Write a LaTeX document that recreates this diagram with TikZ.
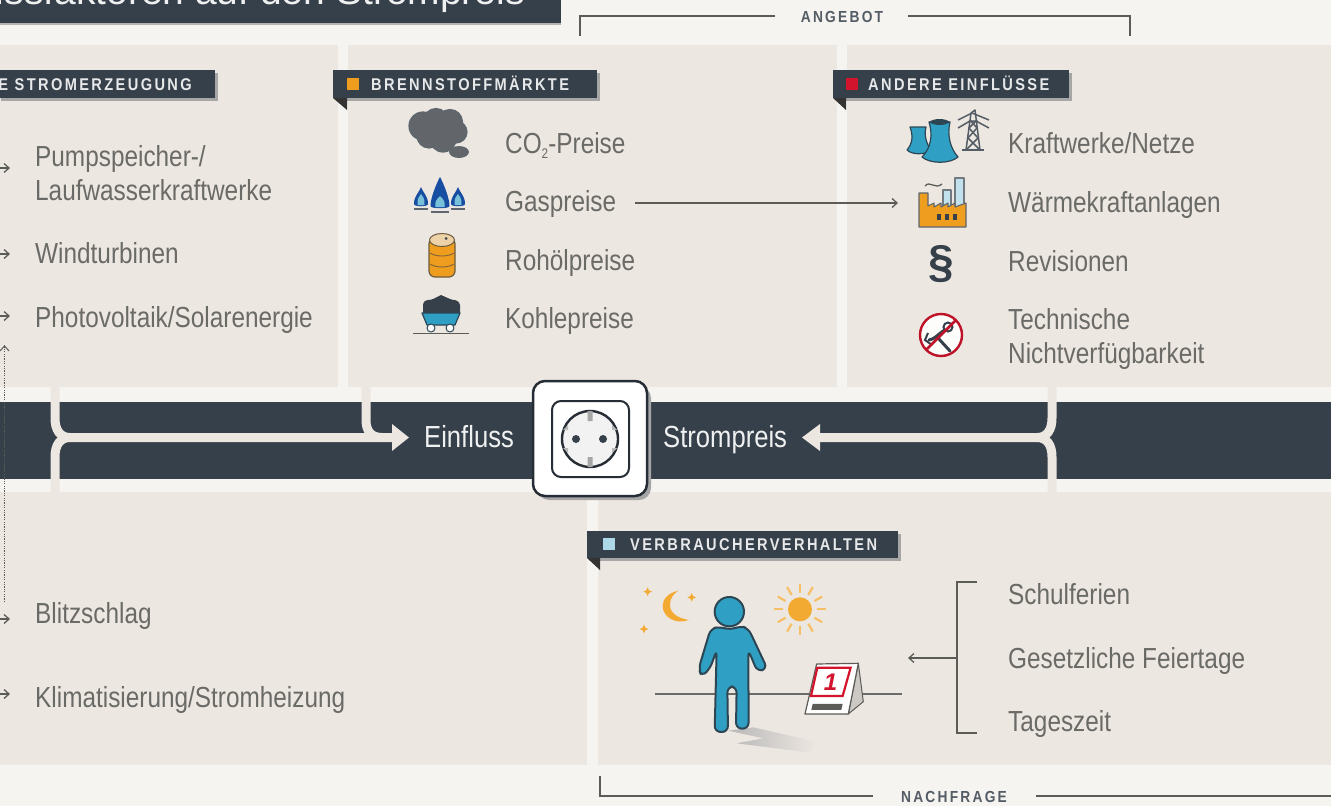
\documentclass[tikz,border=0pt]{standalone}
\usepackage{fontspec}
\setmainfont{Liberation Sans}
\newfontfamily\bodyf[FakeStretch=0.84]{Liberation Sans}
\newfontfamily\headf[FakeStretch=0.86,LetterSpace=14,BoldFont={Liberation Sans Bold}]{Liberation Sans}
\usetikzlibrary{arrows.meta,shapes.geometric}
\definecolor{bgc}{HTML}{F6F4F0}
\definecolor{panelc}{HTML}{EDE7E1}
\definecolor{darkc}{HTML}{36404A}
\definecolor{textc}{HTML}{6A6A67}
\definecolor{linec}{HTML}{5B5B58}
\definecolor{orangec}{HTML}{EE9D1F}
\definecolor{bluec}{HTML}{2F9FC4}
\definecolor{outc}{HTML}{2D4654}
\definecolor{sunc}{HTML}{F3AA33}
\definecolor{redc}{HTML}{D2142C}
\tikzset{
 item/.style={anchor=base west,inner sep=0pt,text=textc,font=\bodyf\fontsize{29}{30}\selectfont},
 onbar/.style={anchor=base west,inner sep=0pt,text=white!92!darkc,font=\bodyf\fontsize{30.5}{32}\selectfont},
 flaghead/.style={anchor=base west,inner sep=0pt,text=white!88!darkc,font=\headf\bfseries\fontsize{17}{18}\selectfont},
 capt/.style={anchor=base,inner sep=0pt,text=darkc!85,font=\headf\bfseries\fontsize{16}{18}\selectfont},
 thin arrow/.style={draw=linec,line width=1.3pt,-{Straight Barb[length=5pt,width=9pt]}},
 bracket line/.style={draw=linec,line width=1.5pt},
 flow/.style={draw=panelc,line width=9pt},
 ico/.style={draw=outc,line width=1.2pt,line join=round},
}
\newcommand{\flag}[4]{%
 \fill[gray!70] (#1+3,#2+3) rectangle (#3+3,#4+3);
 \fill[darkc] (#1,#2) rectangle (#3,#4);
}
\begin{document}
\begin{tikzpicture}[x=1pt,y=-1pt]
\useasboundingbox (0,0) rectangle (1331,806);
\clip (0,0) rectangle (1331,806);
\fill[bgc] (0,0) rectangle (1331,806);
% panels
\fill[panelc] (-2,45) rectangle (338,387);
\fill[panelc] (348,45) rectangle (837,387);
\fill[panelc] (847,45) rectangle (1333,387);
\fill[panelc] (-2,492) rectangle (587,765);
\fill[panelc] (598,492) rectangle (1333,765);
% title
\fill[gray!60] (0,23) rectangle (561,25);
\fill[darkc] (0,0) rectangle (561,23);
\begin{scope}
\clip (0,0) rectangle (561,23);
\node[anchor=base east,inner sep=0pt,text=white!92!darkc,font=\fontsize{39}{40}\selectfont] (title) at (525,4) {Einflussfaktoren auf den Strompreis};
\end{scope}
% bar
\fill[darkc] (-2,402) rectangle (1333,479);
% flows
\draw[flow] (55,387) -- (55,418) .. controls (55,430) and (60,437.5) .. (70,437.5) -- (395,437.5);
\draw[flow] (55,492) -- (55,457) .. controls (55,445) and (60,437.5) .. (70,437.5);
\draw[flow] (366,387) -- (366,420) .. controls (366,432) and (372,437.5) .. (382,437.5);
\fill[panelc] (392,424) -- (409,437.5) -- (392,451) -- cycle;
\draw[flow] (1052,387) -- (1052,418) .. controls (1052,430) and (1047,437.5) .. (1037,437.5) -- (815,437.5);
\draw[flow] (1052,492) -- (1052,457) .. controls (1052,445) and (1047,437.5) .. (1037,437.5);
\fill[panelc] (820,424) -- (802,437.5) -- (820,451) -- cycle;
\node[onbar] (einfluss) at (424,447) {Einfluss};
\node[onbar] (strompreis) at (663,447) {Strompreis};
% socket
\fill[gray!70,rounded corners=12pt] (537,386) rectangle (651,500);
\draw[fill=white,draw=darkc!70!black,line width=2.5pt,rounded corners=12pt] (533,381) rectangle (647,496);
\draw[fill=white,draw=darkc!70!black,line width=2pt,rounded corners=9pt] (552,401) rectangle (629,477);
\draw[fill=white!95!black,draw=darkc!70!black,line width=2.4pt] (590,439) circle (28);
\fill[darkc] (576,439) circle (4) (603,439) circle (4);
\fill[gray!70] (587.5,411) rectangle (592.5,421) (587.5,457) rectangle (592.5,467);
\fill[gray!55] (563,430) -- (568,425) -- (568,430) -- cycle (563,448) -- (568,453) -- (568,448) -- cycle (617,430) -- (612,425) -- (612,430) -- cycle (617,448) -- (612,453) -- (612,448) -- cycle;
% brackets angebot / nachfrage
\node[capt] (ang) at (842,22) {ANGEBOT};
\coordinate (ang1) at (580,36); \coordinate (ang2) at (1130,36);
\draw[bracket line] (ang1) |- (775,16);
\draw[bracket line] (ang2) |- (908,16);
\node[capt] (nach) at (954,802) {NACHFRAGE};
\coordinate (na1) at (600,776);
\draw[bracket line] (na1) |- (873,796);
\draw[bracket line] (1036,796) -- (1333,796);
% flags
\flag{-2}{70}{215}{98}
\node[anchor=base east,inner sep=0pt,text=white!88!darkc,font=\headf\bfseries\fontsize{17}{18}\selectfont] (fa) at (192,90.5) {E STROMERZEUGUNG};
\flag{333}{70}{597}{98}
\fill[black!80] (333,98) -- (347,98) -- (347,110) -- cycle;
\fill[orangec] (347,78) rectangle (359,90);
\node[flaghead] (fb) at (371,90.5) {BRENNSTOFFMÄRKTE};
\flag{833}{70}{1069}{98}
\fill[black!80] (833,98) -- (846,98) -- (846,110) -- cycle;
\fill[redc] (846,78) rectangle (858,90);
\node[flaghead] (fc) at (868,90.5) {ANDERE EINFLÜSSE};
\flag{587}{531}{898}{558}
\fill[black!80] (587,558) -- (600,558) -- (600,570) -- cycle;
\fill[white!60!bluec] (603,538) rectangle (615,550);
\node[flaghead] (fd) at (630,550.5) {VERBRAUCHERVERHALTEN};
% items A
\node[item] (a1) at (35,166) {Pumpspeicher-/};
\node[item] (a2) at (35,200) {Laufwasserkraftwerke};
\node[item] (a3) at (35,263) {Windturbinen};
\node[item] (a4) at (35,327) {Photovoltaik/Solarenergie};
\node[item] (a5) at (35,623) {Blitzschlag};
\node[item] (a6) at (35,707) {Klimatisierung/Stromheizung};
\foreach \n/\yy in {s1/168,s2/254,s3/316,s4/619,s5/694}{
 \coordinate (\n a) at (-2,\yy); \coordinate (\n b) at (10,\yy);
 \draw[thin arrow] (\n a) -- (\n b);}
\coordinate (dotA) at (4.5,602); \coordinate (dotB) at (4.5,345);
\draw[draw=linec,line width=1.2pt,dash pattern=on 1.2pt off 1.2pt] (dotA) -- (dotB);
\draw[draw=linec,line width=1pt] (0,351) -- (4.5,346) -- (9,351);
% items B
\node[item] (b1) at (505,153) {CO\raisebox{-5pt}{\fontsize{14}{14}\selectfont 2}-Preise};
\node[item] (b2) at (505,211) {Gaspreise};
\node[item] (b3) at (505,270) {Rohölpreise};
\node[item] (b4) at (505,328) {Kohlepreise};
% items C
\node[item] (c1) at (1008,153) {Kraftwerke/Netze};
\node[item] (c2) at (1008,212) {Wärmekraftanlagen};
\node[item] (c3) at (1008,271) {Revisionen};
\node[item] (c4) at (1008,329) {Technische};
\node[item] (c5) at (1008,363) {Nichtverfügbarkeit};
% items D
\node[item] (d1) at (1008,604) {Schulferien};
\node[item] (d2) at (1008,668) {Gesetzliche Feiertage};
\node[item] (d3) at (1008,731) {Tageszeit};
% gas arrow
\coordinate (gasA) at (635,203); \coordinate (gasB) at (898,203);
\draw[thin arrow] (gasA) -- (gasB);
% bracket D
\coordinate (bt) at (977,582); \coordinate (bb) at (977,733); \coordinate (bm) at (957,658); \coordinate (be) at (908,658);
\draw[bracket line] (bt) -- (957,582) -- (957,733) -- (bb);
\draw[thin arrow] (bm) -- (be);
% cloud
\foreach \extra/\colr in {1.6/darkc!80,0/gray!60!darkc}{
 \fill[\colr] (423,126) circle (13+\extra) (436,121) circle (11.5+\extra) (450,122) circle (11.5+\extra) (456,132) circle (10+\extra) (443,139) circle (12+\extra) (429,136) circle (11+\extra);
 \fill[\colr] (459,152) ellipse (9+\extra*.6 and 5+\extra*.6);
}
% flames
\foreach \cx/\hw/\tip/\base in {421/7/187/208,440/9.5/177/210,458/7/187/208}{
 \fill[blue!35!bluec!75!black] (\cx,\tip) .. controls (\cx+.4*\hw,\tip+7) and (\cx+\hw,\base-12) .. (\cx+\hw,\base-4) .. controls (\cx+\hw,\base-1) and (\cx-\hw,\base-1) .. (\cx-\hw,\base-4) .. controls (\cx-\hw,\base-12) and (\cx-.4*\hw,\tip+7) .. (\cx,\tip) -- cycle;
 \fill[white!35!bluec] (\cx,\base-14) .. controls (\cx+\hw*.5,\base-9) .. (\cx+\hw*.5,\base-3) -- (\cx-\hw*.5,\base-3) .. controls (\cx-\hw*.5,\base-9) .. (\cx,\base-14);
}
\draw[darkc!80,line width=1.5pt] (414,209) -- (428,209) (431,212) -- (449,212) (451,209) -- (465,209);
% barrel
\draw[ico,draw=darkc!70!orangec,fill=orangec,rounded corners=6pt] (429,238) rectangle (455,277);
\draw[ico,draw=darkc!70!orangec,fill=panelc!70!orangec,line width=1pt] (442,240) ellipse (12.5 and 6.5);
\fill[darkc] (446,238.5) circle (1.5);
\draw[darkc!60!orangec,line width=.9pt] (430,253) .. controls (436,257) and (448,257) .. (454,253) (430,264) .. controls (436,268) and (448,268) .. (454,264);
% cart
\fill[darkc] (423,313) -- (423,305) .. controls (424,298) and (430,301) .. (433,299) .. controls (436,297) and (438,297) .. (441,295) .. controls (444,297) and (447,297) .. (450,299) .. controls (453,301) and (458,298) .. (460,305) -- (460,313) -- cycle;
\draw[ico,fill=bluec] (422,313) -- (460,313) -- (455,325) -- (427,325) -- cycle;
\draw[ico,fill=white,line width=1pt] (431,328) circle (4) (450,328) circle (4);
\draw[linec,line width=1.8pt] (413,333.5) -- (469,333.5);
% pylon
\begin{scope}[darkc!85,line width=1.5pt,line join=round]
\draw (966,150) -- (971,113) -- (975,110) -- (980,150);
\draw (966,150) -- (978,138) -- (969,128) -- (977,120) (980,150) -- (968,138) -- (977,128) -- (970,120);
\draw (958,120) -- (972,113) -- (989,120) (958,128) -- (970,121) -- (976,121) -- (989,128);
\draw (962,150) -- (984,150);
\end{scope}
% towers
\draw[ico,fill=bluec] (910,127) .. controls (913,135) and (913,143) .. (907,150) .. controls (912,155) and (925,155) .. (931,150) .. controls (926,143) and (924,135) .. (926,127) -- cycle;
\draw[ico,fill=bluec] (929,122) .. controls (933,135) and (931,148) .. (922,157) .. controls (930,164) and (950,164) .. (958,157) .. controls (950,148) and (947,135) .. (950,122) -- cycle;
\fill[outc] (929,122) .. controls (934,118) and (945,118) .. (950,122) .. controls (945,126) and (934,126) .. (929,122);
% factory
\draw[ico,draw=darkc!70,fill=white!70!bluec] (955,178) rectangle (964,208);
\draw[ico,draw=darkc!70,fill=white!70!bluec] (943,190) rectangle (951,210);
\draw[linec,line width=1.3pt] (925,186) .. controls (930,180) and (935,190) .. (942,184);
\draw[ico,draw=darkc!80,fill=orangec,line width=1.1pt] (919,227) -- (919,193) -- (928,193) -- (928,206) -- (934,203) -- (934,207) -- (941,203) -- (941,207) -- (948,203) -- (948,207) -- (955,203) -- (955,207) -- (966,203) -- (966,227) -- cycle;
\foreach \qx in {939,947,955}{\fill[darkc] (\qx-2,214) rectangle (\qx+2,220);}
% paragraph
\node[inner sep=0pt,text=darkc,font=\bfseries\fontsize{46}{46}\selectfont] (para) at (941,264) {§};
% no tools
\draw[draw=redc!90!black,fill=white!90!panelc,line width=2.4pt] (941,335) circle (21);
\draw[darkc,line width=3pt,line cap=round] (929,340) .. controls (934,340) and (940,332) .. (948,328) (938,338) -- (950,351);
\draw[darkc,line width=2pt] (928,333) -- (925,340) -- (932,345);
\draw[darkc,line width=2pt,fill=white] (948,327) circle (4.5);
\draw[redc!90!black,line width=2.6pt] (955.5,320.5) -- (926.5,349.5);
% ground line
\draw[linec!90,line width=2pt] (655,694) -- (902,694);
% scaled scene
\begin{scope}[shift={(620pt,-570pt)},x=.3333pt,y=-.3333pt]
\shade[left color=black!28,right color=panelc] (325,482) -- (400,472) -- (590,515) -- (570,548) -- (350,520) -- (430,505) -- cycle;
\draw[ico,line width=2pt,fill=bluec,rounded corners=6pt] (300,170) -- (272,176) -- (236,296) -- (245,320) -- (270,296) -- (290,240) -- (284,486) -- (324,486) -- (322,350) -- (350,350) -- (348,476) -- (386,476) -- (385,240) -- (412,305) -- (442,296) -- (385,175) -- (360,168) -- (330,180) -- cycle;
\draw[ico,line width=2pt,fill=bluec] (328,125) circle (44);
% sun
\fill[sunc] (540,118) circle (36);
\foreach \ang in {0,30,...,330}{\draw[sunc!75!white,line width=2.2pt] (540,118) ++(\ang:50) -- ++(\ang:27);}
% moon
\fill[sunc] (175,62) .. controls (140,70) and (128,90) .. (128,108) .. controls (128,140) and (165,165) .. (207,150) .. controls (175,145) and (150,130) .. (150,105) .. controls (150,85) and (160,72) .. (175,62) -- cycle;
\foreach \sx/\sy in {83/65,215/82,72/177}{\fill[sunc] (\sx,\sy-13) -- (\sx+4,\sy-4) -- (\sx+13,\sy) -- (\sx+4,\sy+4) -- (\sx,\sy+13) -- (\sx-4,\sy+4) -- (\sx-13,\sy) -- (\sx-4,\sy-4) -- cycle;}
% calendar
\draw[ico,draw=linec,fill=panelc!70!gray,line width=1pt] (715,280) -- (730,395) -- (685,432) -- cycle;
\draw[ico,draw=linec,fill=white,line width=1.2pt] (590,282) -- (715,280) -- (685,432) -- (555,432) -- cycle;
\draw[draw=redc,fill=white,line width=2.2pt] (592,293) -- (692,293) -- (668,378) -- (573,378) -- cycle;
\node[inner sep=0pt,text=redc,font=\bfseries\itshape\fontsize{24}{24}\selectfont] (one) at (632,337) {1};
\fill[linec] (578,402) -- (668,402) -- (664,420) -- (574,420) -- cycle;
\end{scope}
\end{tikzpicture}
\end{document}
